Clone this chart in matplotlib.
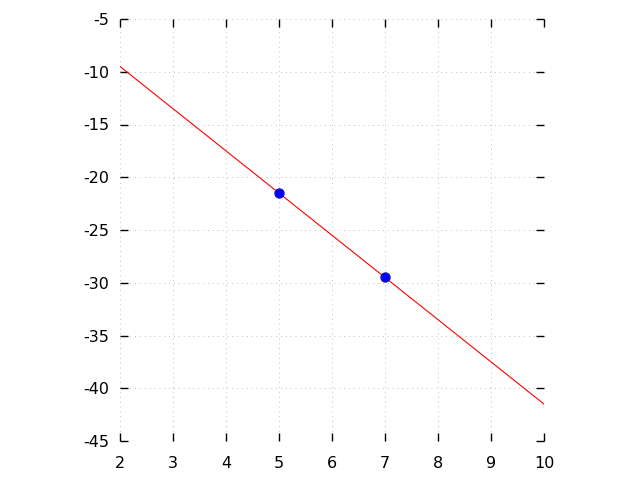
import matplotlib
matplotlib.use("Agg")
import matplotlib.pyplot as plt

# data
line_x = [2, 10]
line_y = [-9.5, -41.5]
pts_x = [5, 7]
pts_y = [-21.5, -29.5]

xticks = [2, 3, 4, 5, 6, 7, 8, 9, 10]
yticks = [-45, -40, -35, -30, -25, -20, -15, -10, -5]

fig = plt.figure(figsize=(6.4, 4.8), dpi=100)
ax = fig.add_axes([120/640, 1 - 441/480, (544 - 120)/640, (441 - 19)/480])

ax.plot(line_x, line_y, color="red", lw=0.8, zorder=2)
ax.plot(pts_x, pts_y, "o", color="blue", mec="#1010c0", ms=6.5, zorder=3)

ax.set_xlim(2, 10)
ax.set_ylim(-45, -5)
ax.set_xticks(xticks)
ax.set_yticks(yticks)
ax.set_xticklabels([str(v) for v in xticks])
ax.set_yticklabels([str(v) for v in yticks])

for s in ax.spines.values():
    s.set_visible(False)

ax.tick_params(direction="in", length=6, width=1, top=True, right=True,
               labelsize=11.5, color="black")
ax.tick_params(axis="x", pad=11)
ax.tick_params(axis="y", pad=7.5)
ax.grid(True, linestyle=(0, (1, 4)), color="#c0c0c0", lw=0.7)
ax.set_axisbelow(True)

fig.savefig("out.png", dpi=100)
